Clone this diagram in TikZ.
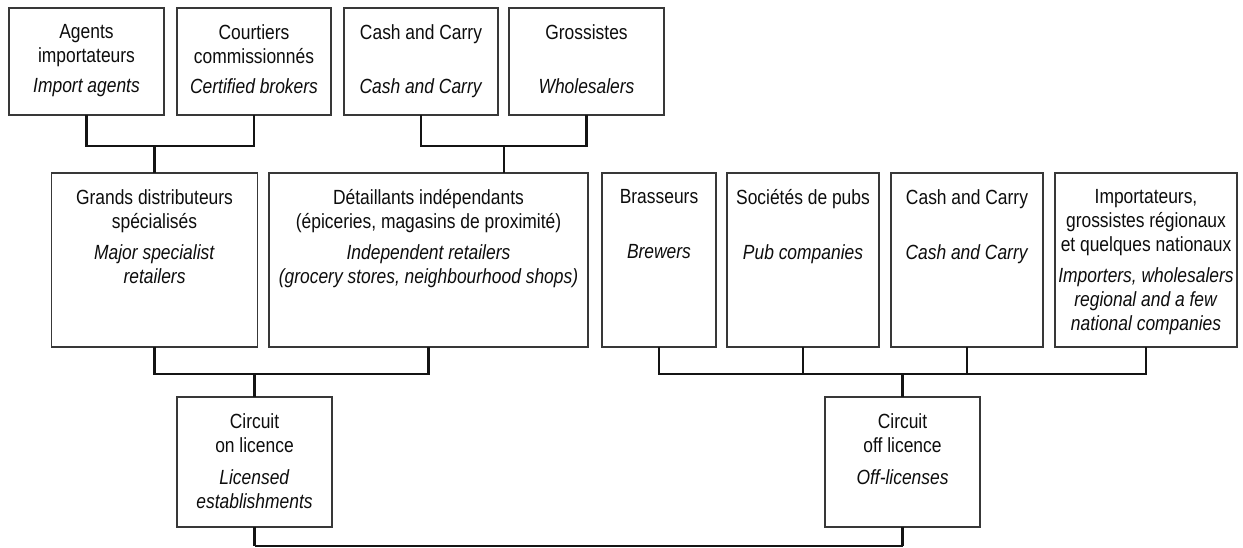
\documentclass[tikz,border=0pt]{standalone}
\usepackage{fontspec}
\setmainfont{Liberation Sans}[FakeStretch=0.85]
\begin{document}
\begin{tikzpicture}[x=1pt,y=-1pt,
  box/.style={draw=black!78, line width=1.3pt, inner sep=0pt, outer sep=0pt},
  txt/.style={anchor=north, align=center, inner sep=0pt, font=\fontsize{20.5}{24}\selectfont, text=black!95},
  conn/.style={draw=black!92, line width=2.6pt},
  thinconn/.style={draw=black!92, line width=1.3pt}]
\useasboundingbox (0,0) rectangle (1243,547);
\fill[white] (0,0) rectangle (1243,547);
% top row
\node[box, minimum width=155pt, minimum height=107pt] (agents) at (86.5,61.5) {};
\node[box, minimum width=154pt, minimum height=107pt] (courtiers) at (254,61.5) {};
\node[box, minimum width=154pt, minimum height=107pt] (cashA) at (421,61.5) {};
\node[box, minimum width=155pt, minimum height=107pt] (gross) at (586.5,61.5) {};
\node[txt] (agentsT) at ([yshift=-16pt]agents.north) {Agents\\importateurs\\[6pt]\textit{Import agents}};
\node[txt] (courtiersT) at ([yshift=-16pt]courtiers.north) {Courtiers\\commissionnés\\[6pt]\textit{Certified brokers}};
\node[txt] (cashAT) at ([yshift=-16pt]cashA.north) {Cash and Carry\\[30pt]\textit{Cash and Carry}};
\node[txt] (grossT) at ([yshift=-16pt]gross.north) {Grossistes\\[30pt]\textit{Wholesalers}};
% second row
\node[box, minimum width=206pt, minimum height=174pt] (grands) at (154.5,260) {};
\node[box, minimum width=319pt, minimum height=174pt] (detail) at (428.5,260) {};
\node[box, minimum width=114pt, minimum height=174pt] (brass) at (659,260) {};
\node[box, minimum width=152pt, minimum height=174pt] (soc) at (803,260) {};
\node[box, minimum width=152pt, minimum height=174pt] (cashB) at (967,260) {};
\node[box, minimum width=182pt, minimum height=174pt] (import) at (1146,260) {};
\node[txt] (grandsT) at ([yshift=-16pt]grands.north) {Grands distributeurs\\spécialisés\\[7pt]\textit{Major specialist}\\\textit{retailers}};
\node[txt] (detailT) at ([yshift=-16pt]detail.north) {Détaillants indépendants\\(épiceries, magasins de proximité)\\[7pt]\textit{Independent retailers}\\\textit{(grocery stores, neighbourhood shops)}};
\node[txt] (brassT) at ([yshift=-16pt]brass.north) {Brasseurs\\[31pt]\textit{Brewers}};
\node[txt] (socT) at ([yshift=-16pt]soc.north) {Sociétés de pubs\\[31pt]\textit{Pub companies}};
\node[txt] (cashBT) at ([yshift=-16pt]cashB.north) {Cash and Carry\\[31pt]\textit{Cash and Carry}};
\node[txt] (importT) at ([yshift=-16pt]import.north) {Importateurs,\\grossistes régionaux\\et quelques nationaux\\[7pt]\textit{Importers, wholesalers}\\\textit{regional and a few}\\\textit{national companies}};
% bottom row
\node[box, minimum width=155pt, minimum height=130pt] (on) at (254.5,462) {};
\node[box, minimum width=155pt, minimum height=130pt] (off) at (902.5,462) {};
\node[txt] (onT) at ([yshift=-16pt]on.north) {Circuit\\on licence\\[8pt]\textit{Licensed}\\\textit{establishments}};
\node[txt] (offT) at ([yshift=-16pt]off.north) {Circuit\\off licence\\[8pt]\textit{Off-licenses}};
% connector levels
\coordinate (ytop) at (0,146);
\coordinate (ymid) at (0,374);
\coordinate (ybot) at (0,546);
\coordinate (jR) at (504,146);
% top connectors
\draw[conn] (agents.south) |- (courtiers.south |- ytop) -- (courtiers.south);
\draw[conn] (grands.north |- ytop) -- (grands.north);
\draw[conn] (cashA.south) |- (gross.south |- ytop) -- (gross.south);
\draw[conn] (jR) -- (jR |- detail.north);
% middle connectors
\draw[conn] (grands.south) |- (detail.south |- ymid) -- (detail.south);
\draw[conn] (on.north |- ymid) -- (on.north);
\draw[conn] (brass.south) |- (import.south |- ymid) -- (import.south);
\draw[conn] (soc.south) -- (soc.south |- ymid);
\draw[conn] (cashB.south) -- (cashB.south |- ymid);
\draw[conn] (off.north |- ymid) -- (off.north);
% bottom connector
\draw[conn] (on.south) -- (on.south |- ybot);
\draw[conn] (off.south) -- (off.south |- ybot);
\draw[thinconn] (on.south |- ybot) -- (off.south |- ybot);
\end{tikzpicture}
\end{document}
